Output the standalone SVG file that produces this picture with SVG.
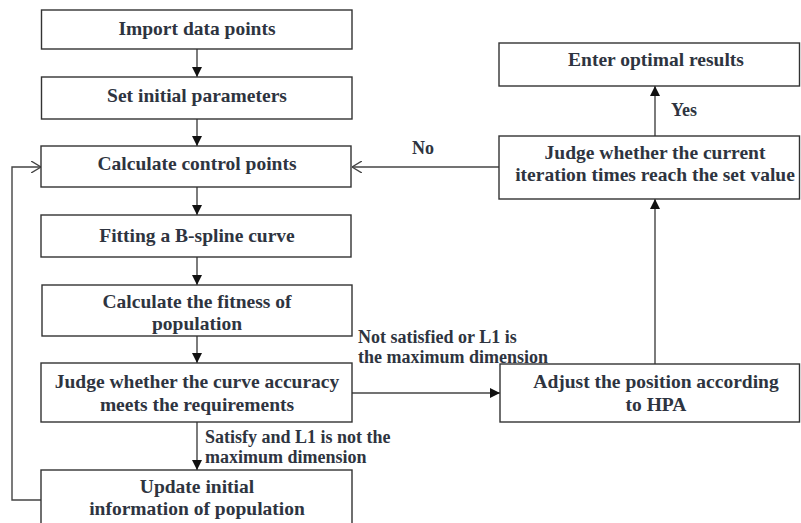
<svg xmlns="http://www.w3.org/2000/svg" width="801" height="523" viewBox="0 0 801 523">
<defs>
<style>
.box{fill:#fff;stroke:#333;stroke-width:1.4}
.t{font-family:"Liberation Serif","Times New Roman",serif;font-weight:bold;font-size:19.5px;fill:#2e3440;text-anchor:middle}
.l{font-family:"Liberation Serif","Times New Roman",serif;font-weight:bold;font-size:18px;fill:#2e3440}
.c{fill:none;stroke:#444;stroke-width:1.4}
</style>
<marker id="fa" viewBox="0 0 10 10" refX="10" refY="5" markerWidth="10" markerHeight="10" markerUnits="userSpaceOnUse" orient="auto"><path d="M0,0 L10,5 L0,10 Z" fill="#111"/></marker>
<marker id="oa" viewBox="0 0 10 12" refX="10" refY="6" markerWidth="10" markerHeight="12" markerUnits="userSpaceOnUse" orient="auto"><path d="M0,0 L10,6 L0,12" fill="none" stroke="#444" stroke-width="1.4"/></marker>
</defs>
<rect width="801" height="523" fill="#fff"/>
<g id="connectors">
<line class="c" x1="197" y1="49" x2="197" y2="77" marker-end="url(#fa)"/>
<line class="c" x1="197" y1="119" x2="197" y2="146" marker-end="url(#fa)"/>
<line class="c" x1="197" y1="187" x2="197" y2="215" marker-end="url(#fa)"/>
<line class="c" x1="197" y1="257" x2="197" y2="285" marker-end="url(#fa)"/>
<line class="c" x1="197" y1="336" x2="197" y2="363" marker-end="url(#fa)"/>
<line class="c" x1="197" y1="422" x2="197" y2="470" marker-end="url(#fa)"/>
<polyline class="c" points="41,500 12,500 12,167 41,167" marker-end="url(#oa)"/>
<line class="c" x1="352" y1="393" x2="500" y2="393" marker-end="url(#fa)"/>
<line class="c" x1="655" y1="364" x2="655" y2="199" marker-end="url(#fa)"/>
<line class="c" x1="655" y1="136" x2="655" y2="86" marker-end="url(#fa)"/>
<line class="c" x1="499" y1="167" x2="352" y2="167" marker-end="url(#oa)"/>
<text class="l" x="412" y="154">No</text>
<text class="l" x="671" y="116">Yes</text>
<text class="l" x="358" y="343">Not satisfied or L1 is</text>
<text class="l" x="358" y="363">the maximum dimension</text>
<text class="l" x="205" y="443">Satisfy and L1 is not the</text>
<text class="l" x="205" y="463">maximum dimension</text>
</g>
<g id="n1"><rect class="box" x="41.5" y="10" width="310.5" height="39"/><text class="t" x="197" y="35">Import data points</text></g>
<g id="n2"><rect class="box" x="41.5" y="77" width="310.5" height="42"/><text class="t" x="197" y="102">Set initial parameters</text></g>
<g id="n3"><rect class="box" x="41" y="146" width="310" height="41"/><text class="t" x="197" y="170">Calculate control points</text></g>
<g id="n4"><rect class="box" x="41" y="215" width="310" height="42"/><text class="t" x="197" y="242">Fitting a B-spline curve</text></g>
<g id="n5"><rect class="box" x="42" y="285" width="310" height="51"/><text class="t" x="197" y="308">Calculate the fitness of</text><text class="t" x="197" y="330">population</text></g>
<g id="n6"><rect class="box" x="41" y="363" width="311" height="59"/><text class="t" x="197" y="388">Judge whether the curve accuracy</text><text class="t" x="197" y="411">meets the requirements</text></g>
<g id="n7"><rect class="box" x="41" y="470" width="311" height="60"/><text class="t" x="197" y="493">Update initial</text><text class="t" x="197" y="515">information of population</text></g>
<g id="n8"><rect class="box" x="500" y="364" width="299.5" height="58"/><text class="t" x="656" y="388">Adjust the position according</text><text class="t" x="656" y="411">to HPA</text></g>
<g id="n9"><rect class="box" x="499" y="136" width="300.5" height="63"/><text class="t" x="655" y="159">Judge whether the current</text><text class="t" x="655" y="181">iteration times reach the set value</text></g>
<g id="n10"><rect class="box" x="499" y="43" width="300.5" height="43"/><text class="t" x="656" y="66">Enter optimal results</text></g>
</svg>
